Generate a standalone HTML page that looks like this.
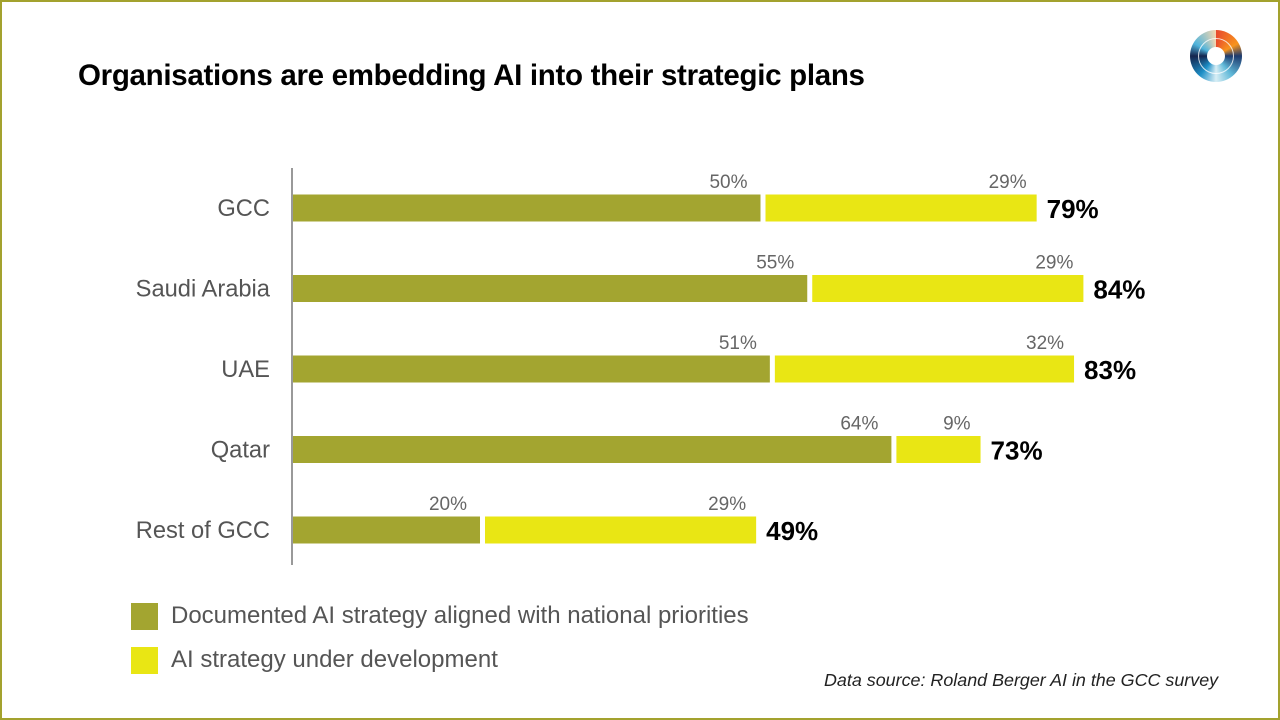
<!DOCTYPE html>
<html><head><meta charset="utf-8"><style>
body{margin:0;width:1280px;height:720px;overflow:hidden;background:#fff;font-family:"Liberation Sans",Arial,sans-serif;}
#frame{position:absolute;left:0;top:0;width:1276px;height:716px;border:2px solid #a3a22e;}
.t{position:absolute;white-space:nowrap}
</style></head><body>
<div id="frame"></div>
<div class="t" style="left:78px;top:59px;font-size:29.5px;font-weight:bold;letter-spacing:-0.3px;color:#000">Organisations are embedding AI into their strategic plans</div>
<div style="position:absolute;left:1190px;top:30px;width:52px;height:52px;border-radius:50%;background:conic-gradient(#e84a2e 0deg,#f7941d 60deg,#1d3a6e 90deg,#5fb8d8 140deg,#d8eef5 180deg,#1d8fc7 220deg,#15254e 270deg,#4fb4dc 300deg,#f5d7b0 360deg);">
<div style="position:absolute;left:8px;top:8px;width:34px;height:34px;border-radius:50%;border:1.5px solid rgba(255,255,255,.8)"></div>
<div style="position:absolute;left:17px;top:17px;width:18px;height:18px;border-radius:50%;background:#fff"></div></div>
<svg id="chart" width="1280" height="720" style="position:absolute;left:0;top:0"></svg>
<div style="position:absolute;left:131px;top:603px;width:27px;height:27px;background:#a3a530"></div>
<div class="t" style="left:171px;top:602px;font-size:24px;color:#555">Documented AI strategy aligned with national priorities</div>
<div style="position:absolute;left:131px;top:647px;width:27px;height:27px;background:#e9e614"></div>
<div class="t" style="left:171px;top:646px;font-size:24px;color:#555">AI strategy under development</div>
<div class="t" style="left:824px;top:670px;font-size:17.9px;font-style:italic;color:#222">Data source: Roland Berger AI in the GCC survey</div>
<script>
const categories=["GCC","Saudi Arabia","UAE","Qatar","Rest of GCC"];
const documented=[50,55,51,64,20];
const development=[29,29,32,9,29];
const svg=document.getElementById('chart');
const NS='http://www.w3.org/2000/svg';
const x0=293,k=9.35,gap=5;
const xs=v=>v*k;
const yc=i=>208+i*80.5;
function mk(tag,attrs){const e=document.createElementNS(NS,tag);for(const a in attrs)e.setAttribute(a,attrs[a]);svg.appendChild(e);return e;}
const ax=mk('line',{x1:292,y1:168,x2:292,y2:565,stroke:'#999','stroke-width':2});


categories.forEach((c,i)=>{
  const y=yc(i);
  const lab=mk('text',{x:270,y:y+8,'text-anchor':'end','font-size':23.7,fill:'#555','font-family':'Liberation Sans,sans-serif'});
  lab.textContent=c;
  
  
  const w1=xs(documented[i]);
  const b1=mk('rect',{x:x0,y:y-13.5,width:w1,height:27,fill:'#a3a530'});
  
  
  const x2=x0+w1+gap,w2=xs(development[i]);
  const b2=mk('rect',{x:x2,y:y-13.5,width:w2,height:27,fill:'#e9e614'});
  
  
  const v1=mk('text',{x:x0+w1-13,y:y-20,'text-anchor':'end','font-size':19,fill:'#666','font-family':'Liberation Sans,sans-serif'});
  v1.textContent=documented[i]+'%';
  
  
  const v2=mk('text',{x:x2+w2-10,y:y-20,'text-anchor':'end','font-size':19,fill:'#666','font-family':'Liberation Sans,sans-serif'});
  v2.textContent=development[i]+'%';
  
  
  const tt=mk('text',{x:x2+w2+10,y:y+10,'font-size':26,'font-weight':'bold',fill:'#000','font-family':'Liberation Sans,sans-serif'});
  tt.textContent=(documented[i]+development[i])+'%';
  
  
});
</script>
</body></html>
